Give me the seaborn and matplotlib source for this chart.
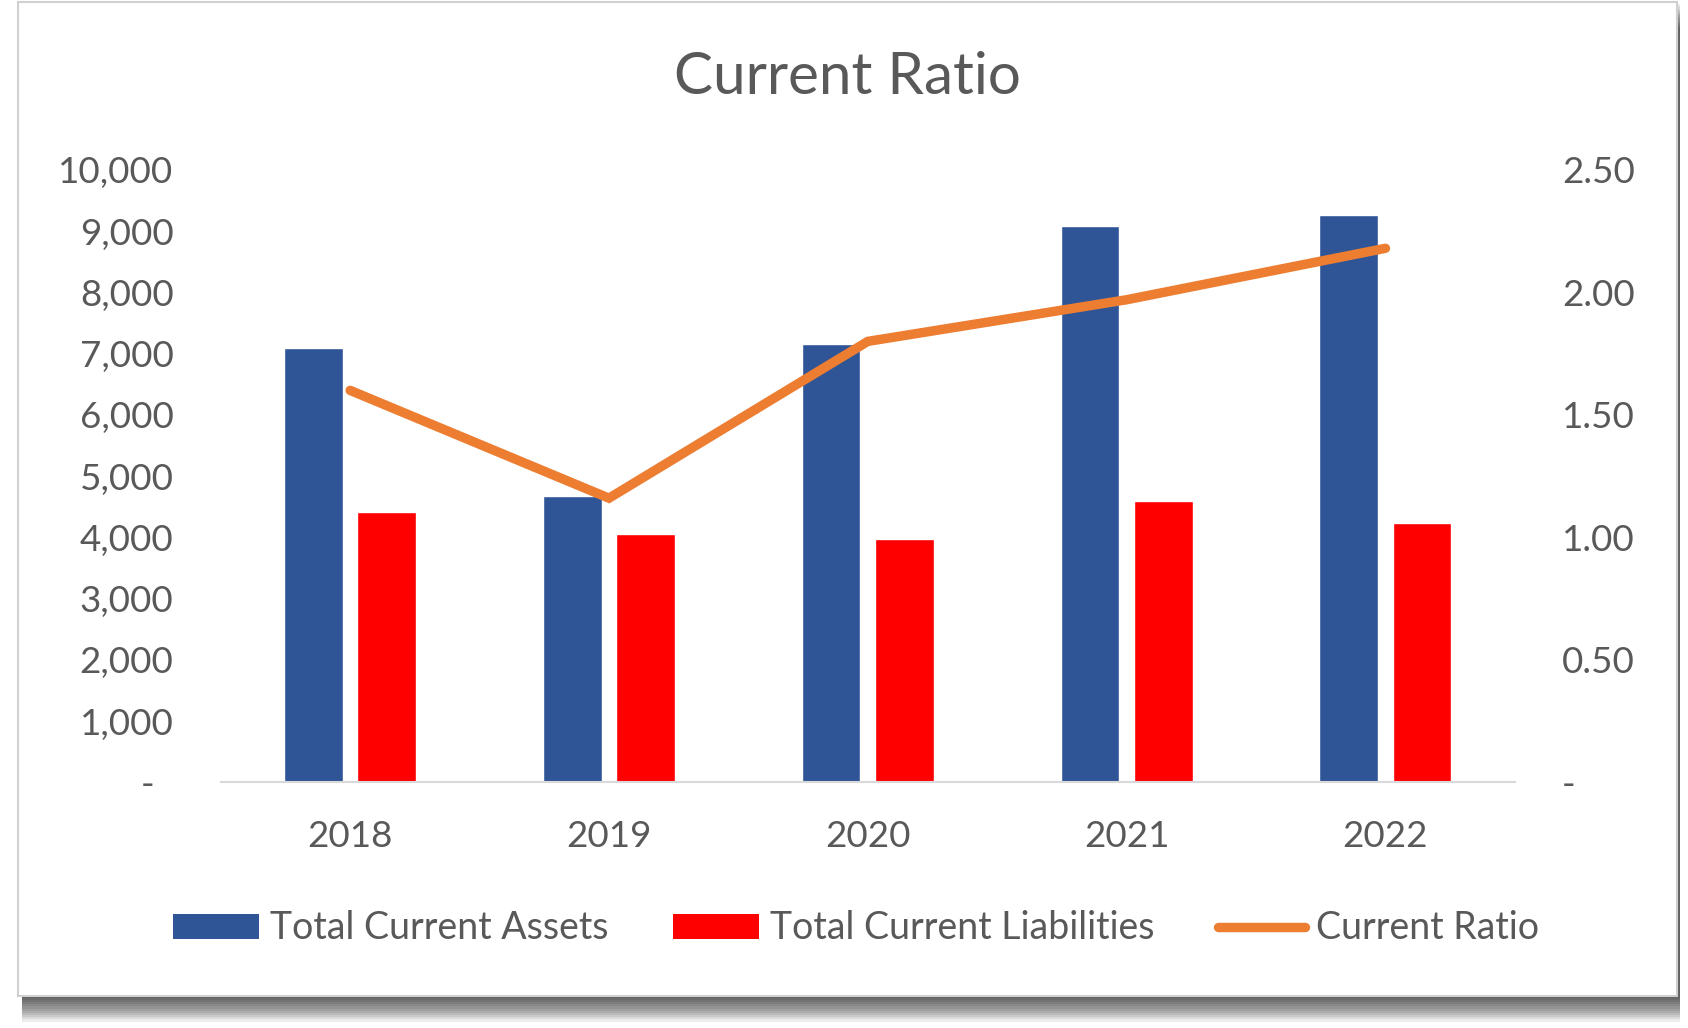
import matplotlib.pyplot as plt
import matplotlib.patches as mpatches
from matplotlib.lines import Line2D
import numpy as np
import pandas as pd
import seaborn as sns

# values
years = [2018, 2019, 2020, 2021, 2022]
total_current_assets = [7090, 4680, 7150, 9080, 9260]
total_current_liabilities = [4420, 4050, 3980, 4600, 4240]
current_ratio = [1.60, 1.16, 1.80, 1.97, 2.18]

left_ticks = [0, 1000, 2000, 3000, 4000, 5000, 6000, 7000, 8000, 9000, 10000]
left_labels = ["-  "] + [f"{v:,}" for v in left_ticks[1:]]
right_ticks = [0, 0.5, 1.0, 1.5, 2.0, 2.5]
right_labels = ["-"] + [f"{v:.2f}" for v in right_ticks[1:]]

blue = "#2F5597"
red = "#FF0000"
orange = "#ED7D31"
grey_text = "#595959"

sns.set_theme(style="white")
plt.rcParams["font.family"] = ["Lato", "DejaVu Sans"]

df = pd.DataFrame({
    "year": years * 2,
    "value": total_current_assets + total_current_liabilities,
    "series": ["Total Current Assets"] * 5 + ["Total Current Liabilities"] * 5,
})

fig = plt.figure(figsize=(16.88, 10.28), dpi=100)
fig.patch.set_facecolor("white")

# card frame with a soft shadow
W, H = 1560.0, 950.0
x0, y0, x1, y1 = 17 / W, 1 - 920 / H, 1550 / W, 1 - 2 / H
for i in range(12):
    off = (2 + i * 2.0) / H
    fig.add_artist(mpatches.Rectangle(
        (x0 + 3 / W, y0 - off), x1 - x0, y1 - y0,
        transform=fig.transFigure, facecolor="black", edgecolor="none",
        alpha=0.075, zorder=0))
fig.add_artist(mpatches.Rectangle(
    (x0, y0), x1 - x0, y1 - y0, transform=fig.transFigure,
    facecolor="white", edgecolor="#D0D0D0", linewidth=1.5, zorder=1))

ax = fig.add_axes([204 / W, 1 - 723 / H, (1400 - 204) / W, (723 - 157) / H])
ax.set_zorder(2)
ax.patch.set_alpha(0)

sns.barplot(
    data=df, x="year", y="value", hue="series",
    palette=[blue, red], width=0.567, gap=0.2,
    saturation=1, ax=ax, legend=False
)

ax.set_xlim(-0.5, 4.5)
ax.set_ylim(0, 10000)
ax.set_yticks(left_ticks)
ax.set_yticklabels(left_labels)
ax.set_xlabel("")
ax.set_ylabel("")
ax.tick_params(axis="y", length=0, pad=34, labelsize=26.5, labelcolor=grey_text)
ax.tick_params(axis="x", length=0, pad=27, labelsize=26.5, labelcolor=grey_text)
for s in ["top", "left", "right"]:
    ax.spines[s].set_visible(False)
ax.spines["bottom"].set_color("#D9D9D9")
ax.spines["bottom"].set_linewidth(1.5)

ax2 = ax.twinx()
sns.lineplot(
    x=np.arange(len(years)), y=current_ratio, color=orange,
    linewidth=6.8, ax=ax2, solid_capstyle="round", solid_joinstyle="miter"
)
ax2.set_ylim(0, 2.5)
ax2.set_yticks(right_ticks)
ax2.set_yticklabels(right_labels)
ax2.tick_params(axis="y", length=0, pad=34, labelsize=26.5, labelcolor=grey_text)
for s in ["top", "left", "right", "bottom"]:
    ax2.spines[s].set_visible(False)

fig.text(783 / W, 1 - 72 / H, "Current Ratio", ha="center", va="center",
         fontsize=42, color=grey_text)

handles = [
    mpatches.Patch(facecolor=blue, edgecolor="none"),
    mpatches.Patch(facecolor=red, edgecolor="none"),
    Line2D([0], [0], color=orange, linewidth=6.8, solid_capstyle="round"),
]
labels = ["Total Current Assets", "Total Current Liabilities", "Current Ratio"]
fig.legend(
    handles, labels, loc="center", bbox_to_anchor=(791 / W, 1 - 858 / H),
    ncol=3, frameon=False, fontsize=27, labelcolor=grey_text,
    handlelength=2.3, handleheight=0.65, handletextpad=0.3, columnspacing=1.7
)

fig.savefig("out.png", dpi=100)
